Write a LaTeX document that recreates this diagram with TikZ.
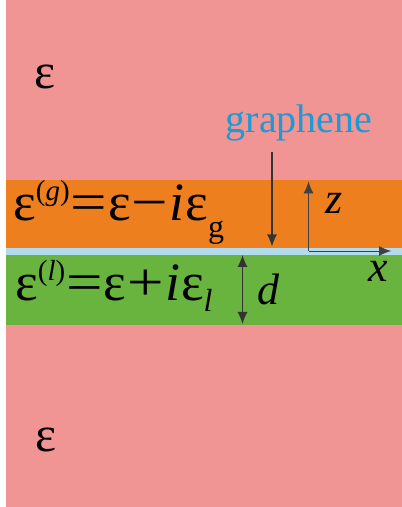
\documentclass[tikz,border=0pt]{standalone}
\usepackage{graphicx}
\usepackage{fontspec}
\setmainfont{Liberation Serif}
\usetikzlibrary{positioning, arrows.meta}

\definecolor{outerpink}{HTML}{F09494}
\definecolor{gorange}{HTML}{EE7F1F}
\definecolor{lgreen}{HTML}{68B43F}
\definecolor{sheetblue}{HTML}{B2DCEB}
\definecolor{labelblue}{HTML}{1A9AD6}

\newcommand{\upidx}[1]{\raisebox{20pt}{\fontsize{29}{32}\selectfont #1}}
\newcommand{\lowidx}[2]{\raisebox{-#1}{\fontsize{32}{34}\selectfont #2}}
\newcommand{\wideop}[1]{\hspace{1pt}\scalebox{1.2}[1]{#1}\hspace{1pt}}

\tikzset{
  lbl/.style={inner sep=0pt, font=\fontsize{44}{50}\selectfont\itshape},
  eqn/.style={inner sep=0pt, anchor=base west, font=\fontsize{54}{60}\selectfont},
  ptr/.style={line width=1.2pt, draw=black!80, -{Latex[length=12pt,width=10pt]}},
  axis/.style={line width=0.8pt, draw=black!60, -{Latex[length=12pt,width=10pt]}, color=black!75},
}

\begin{document}
\begin{tikzpicture}[x=1pt, y=1pt]
        \useasboundingbox (0,0) rectangle (402,507);
        % Layers
        \fill[outerpink] (5.5,0) rectangle (402,507);
        \fill[gorange] (5.5,259.3) rectangle (402,327);
        \fill[sheetblue] (5.5,252) rectangle (402,259.3);
        \fill[lgreen] (5.5,182) rectangle (402,252);
        % Permittivities
        \node[inner sep=0pt, font=\fontsize{50}{56}\selectfont] (epstop) at (45,430.5) {ε};
        \node[inner sep=0pt, font=\fontsize{50}{56}\selectfont] (epsbot) at (45.5,67) {ε};
        \node[eqn] (epsg) at (13,286) {ε\upidx{(\textit{g})}\wideop{=}ε\wideop{−}\textit{i}\hspace{1pt}ε\lowidx{17pt}{g}};
        \node[eqn] (epsl) at (15,206) {ε\upidx{(\textit{l})}\wideop{=}ε\wideop{+}\textit{i}\hspace{1pt}ε\lowidx{11pt}{\textit{l}}};
        % Graphene sheet
        \node[inner sep=0pt, anchor=base, text=labelblue, font=\fontsize{40}{46}\selectfont] (graphene) at (299,374.3) {graphene};
        \coordinate (gtop) at (272,355);
        \coordinate (gbot) at (272,260.5);
        \draw[ptr] (gtop) -- (gbot);
        % Thickness
        \coordinate (dtop) at (242.5,252);
        \coordinate (dbot) at (242.5,183);
        \draw[ptr, line width=1pt, {Latex[length=12pt,width=10pt]}-{Latex[length=12pt,width=10pt]}] (dtop) -- (dbot);
        \node[lbl] (d) at (268,218) {d};
        % Axes
        \coordinate (orig) at (308.5,256);
        \coordinate (zend) at (308.5,325.5);
        \coordinate (xend) at (391,256);
        \draw[axis] (orig) -- (zend);
        \draw[axis] (orig) -- (xend);
        \node[lbl] (z) at (334,304) {z};
        \node[lbl] (x) at (378,236) {x};
    \end{tikzpicture}
\end{document}
